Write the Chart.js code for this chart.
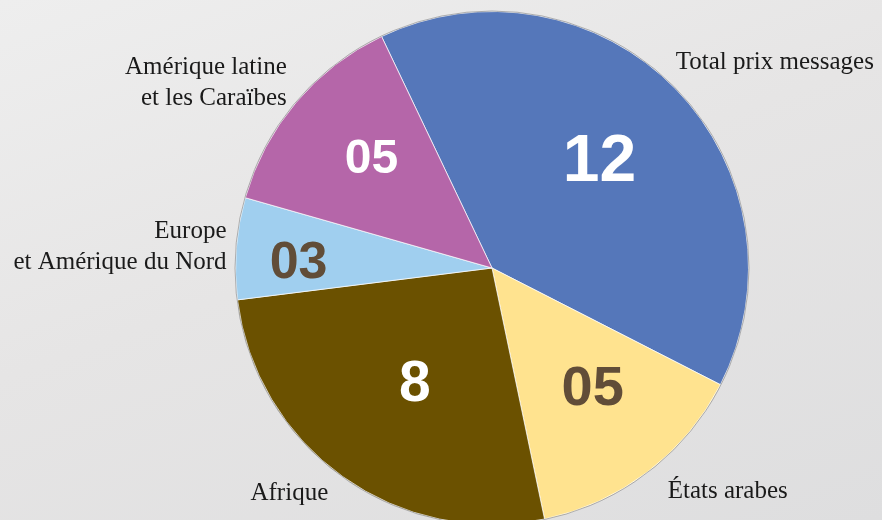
<!DOCTYPE html>
<html>
<head>
<meta charset="utf-8">
<script src="https://cdn.jsdelivr.net/npm/chart.js@4.4.1/dist/chart.umd.min.js"></script>
<style>
  html, body { margin: 0; padding: 0; overflow: hidden; }
  body {
    width: 882px; height: 520px;
    background: linear-gradient(160deg, #eeeeee 0%, #e6e5e5 45%, #dededf 100%);
  }
  #wrap { position: absolute; left: 0; top: 0; width: 882px; height: 540px; }
</style>
</head>
<body>
<div id="wrap"><canvas id="pieChart"></canvas></div>
<script>
// slices, clockwise from the top-left edge of the blue slice
const regions = ['Total prix messages', 'États arabes', 'Afrique', 'Europe et Amérique du Nord', 'Amérique latine et les Caraïbes'];
const shares = [39.6, 14.2, 26.3, 6.4, 13.5];
const shownNumbers = ['12', '05', '8', '03', '05'];
const sliceColors = ['#5577ba', '#ffe38f', '#6b5100', '#a0cfef', '#b566a9'];

// styling for the numbers inside the slices (dist in radius units, turn in degrees)
const numberStyle = [
    { color: '#ffffff', size: 66, dist: 0.60, turn: -1.5 },
    { color: '#614d38', size: 56, dist: 0.60, turn: -3.5 },
    { color: '#ffffff', size: 57, dist: 0.53, turn: -1 },
    { color: '#614d38', size: 52, dist: 0.755, turn: -1.5 },
    { color: '#ffffff', size: 48, dist: 0.645, turn: 3 }
];

// outer labels, placed relative to the pie centre in units of radius
const outerLabels = [
    { lines: ['Total prix messages'], fx: 0.716, fy: -0.80, align: 'left' },
    { lines: ['États arabes'], fx: 0.685, fy: 0.872, align: 'left' },
    { lines: ['Afrique'], fx: -0.79, fy: 0.88, align: 'center' },
    { lines: ['Europe', 'et Amérique du Nord'], fx: -1.035, fy: -0.082, align: 'right' },
    { lines: ['Amérique latine', 'et les Caraïbes'], fx: -0.80, fy: -0.72, align: 'right' }
];

const pieLabels = {
    id: 'pieLabels',
    afterDatasetsDraw(chart) {
        const ctx = chart.ctx;
        const arcs = chart.getDatasetMeta(0).data;
        const cx = arcs[0].x;
        const cy = arcs[0].y;
        const r = arcs[0].outerRadius;

        // thin grey rim around the pie
        ctx.save();
        ctx.beginPath();
        ctx.arc(cx, cy, r + 0.5, 0, Math.PI * 2);
        ctx.strokeStyle = 'rgba(120,120,120,0.55)';
        ctx.lineWidth = 1;
        ctx.stroke();

        // numbers in the slices
        ctx.textAlign = 'center';
        ctx.textBaseline = 'middle';
        arcs.forEach((arc, i) => {
            const st = numberStyle[i];
            const mid = (arc.startAngle + arc.endAngle) / 2 + st.turn * Math.PI / 180;
            const x = cx + Math.cos(mid) * r * st.dist;
            const y = cy + Math.sin(mid) * r * st.dist;
            ctx.font = 'bold ' + st.size + 'px "Liberation Sans", Arial, sans-serif';
            ctx.fillStyle = st.color;
            ctx.fillText(shownNumbers[i], x, y + 5);
        });

        // region names
        ctx.font = '25px "Liberation Serif", "Times New Roman", serif';
        ctx.fillStyle = '#1a1a1a';
        outerLabels.forEach(lab => {
            ctx.textAlign = lab.align;
            const x = cx + lab.fx * r;
            const y0 = cy + lab.fy * r - (lab.lines.length - 1) * 15.5;
            lab.lines.forEach((line, j) => {
                ctx.fillText(line, x, y0 + j * 31);
            });
        });
        ctx.restore();
    }
};

new Chart(document.getElementById('pieChart').getContext('2d'), {
    type: 'pie',
    data: {
        labels: regions,
        datasets: [{
            data: shares,
            backgroundColor: sliceColors,
            borderColor: 'rgba(255,255,255,0.7)',
            borderWidth: 1
        }]
    },
    options: {
        responsive: true,
        maintainAspectRatio: false,
        animation: false,
        rotation: -25.5,
        layout: {
            padding: { top: 11, bottom: 15, left: 235, right: 133 }
        },
        plugins: {
            legend: { display: false },
            tooltip: { enabled: false }
        }
    },
    plugins: [pieLabels]
});
</script>
</body>
</html>
